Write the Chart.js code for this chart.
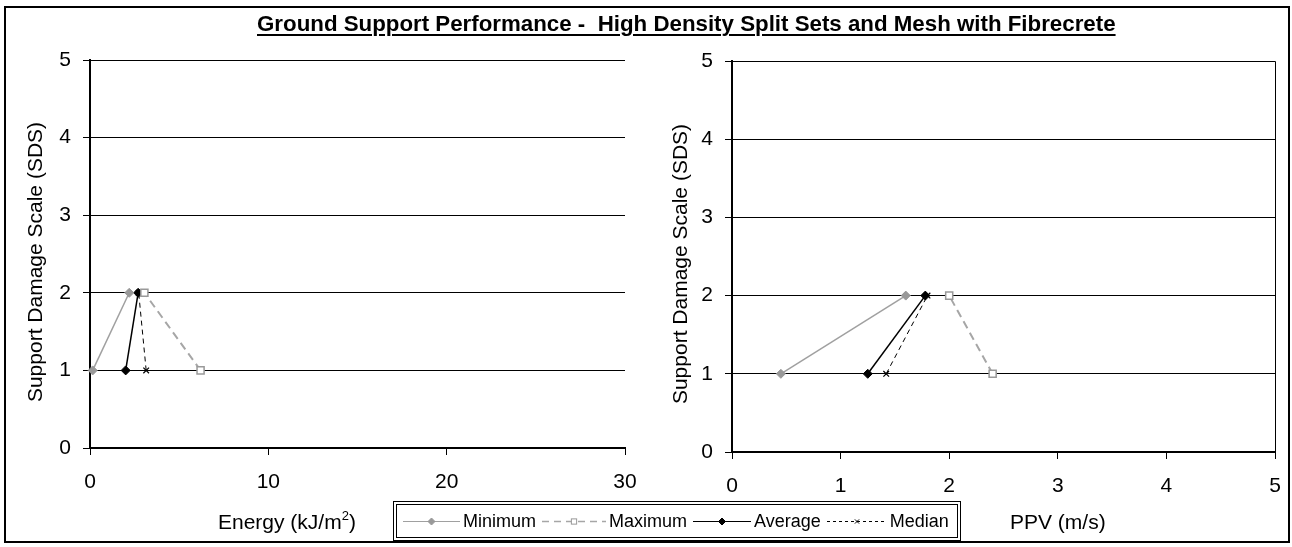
<!DOCTYPE html>
<html>
<head>
<meta charset="utf-8">
<script src="https://cdn.jsdelivr.net/npm/chart.js@4.4.1/dist/chart.umd.min.js"></script>
<style>
  html, body { margin: 0; padding: 0; background: #fff; }
  #wrap { position: relative; width: 1292px; height: 547px; overflow: hidden;
          font-family: 'Liberation Sans', Arial, sans-serif; color: #000; }
  canvas { position: absolute; top: 0; }
  #cLeft { left: 0; }
  #cRight { left: 646px; }
  #frame { position: absolute; left: 4px; top: 6px; width: 1286px; height: 537px;
           border: 2px solid #000; box-sizing: border-box; pointer-events: none; }
  #title { position: absolute; left: 257px; top: 11px; font-weight: bold; font-size: 22.3px;
           line-height: 26px; white-space: pre; text-decoration: underline;
           text-decoration-thickness: 2px; text-underline-offset: 3px; }
  .ytitle { position: absolute; width: 320px; height: 26px; line-height: 26px; font-size: 21px;
            text-align: center; transform: rotate(-90deg); transform-origin: 50% 50%; white-space: nowrap; }
  .xtitle { position: absolute; top: 509px; font-size: 21px; line-height: 26px; white-space: nowrap; }
  .xtitle sup { font-size: 13px; vertical-align: 9px; line-height: 0; }
  #legend { position: absolute; left: 393px; top: 501px; height: 40px; box-sizing: border-box;
            border: 4px double #000; display: flex; align-items: center; padding: 0 8px 0 6px;
            font-size: 18px; white-space: nowrap; background: #fff; }
  #legend .item { display: flex; align-items: center; margin-right: 6px; }
  #legend .item:last-child { margin-right: 0; }
  #legend svg { margin-right: 3px; }
</style>
</head>
<body>
<div id="wrap">
  <canvas id="cLeft" width="646" height="547"></canvas>
  <canvas id="cRight" width="646" height="547"></canvas>
  <div id="frame"></div>
  <div id="title">Ground Support Performance -  High Density Split Sets and Mesh with Fibrecrete</div>
  <div class="ytitle" style="left:-125px; top:249px;">Support Damage Scale (SDS)</div>
  <div class="ytitle" style="left:520px; top:251px;">Support Damage Scale (SDS)</div>
  <div class="xtitle" style="left:218px;">Energy (kJ/m<sup>2</sup>)</div>
  <div class="xtitle" style="left:1010px;">PPV (m/s)</div>
  <div id="legend"></div>
</div>
<script>
// ---- data ----
const sdsLevels = [1, 2];
const seriesNames = ['Minimum', 'Maximum', 'Average', 'Median'];
const energyMinimum = [0.15, 2.2];
const energyMaximum = [6.2, 3.05];
const energyAverage = [2.0, 2.7];
const energyMedian  = [3.15, 2.73];
const ppvMinimum = [0.45, 1.6];
const ppvMaximum = [2.4, 2.0];
const ppvAverage = [1.25, 1.78];
const ppvMedian  = [1.42, 1.8];
const energyTicks = [0, 10, 20, 30];
const ppvTicks = [0, 1, 2, 3, 4, 5];
const sdsTicks = [0, 1, 2, 3, 4, 5];

// ---- styles ----
const styles = [
  { borderColor: '#a0a0a0', borderWidth: 1.5, borderDash: [], pointStyle: 'rectRot', pointRadius: 4.5,
    pointBackgroundColor: '#999999', pointBorderColor: '#999999', pointBorderWidth: 1 },
  { borderColor: '#a6a6a6', borderWidth: 2, borderDash: [8, 5], pointStyle: 'rect', pointRadius: 5,
    pointBackgroundColor: '#ffffff', pointBorderColor: '#999999', pointBorderWidth: 1.5 },
  { borderColor: '#000000', borderWidth: 1.5, borderDash: [], pointStyle: 'rectRot', pointRadius: 4.5,
    pointBackgroundColor: '#000000', pointBorderColor: '#000000', pointBorderWidth: 1 },
  { borderColor: '#000000', borderWidth: 1, borderDash: [5, 4], pointStyle: 'crossRot', pointRadius: 4,
    pointBackgroundColor: '#000000', pointBorderColor: '#000000', pointBorderWidth: 1.2 }
];

Chart.defaults.font.family = "'Liberation Sans', Arial, sans-serif";
Chart.defaults.color = '#000';

const boxPlugin = {
  id: 'plotBox',
  beforeDatasetsDraw(chart, args, opts) {
    if (!opts || !opts.show) return;
    const a = chart.chartArea, ctx = chart.ctx;
    ctx.save();
    ctx.strokeStyle = '#000';
    ctx.lineWidth = 1;
    ctx.beginPath();
    ctx.moveTo(Math.round(a.left), Math.round(a.top) + 0.5);
    ctx.lineTo(Math.round(a.right) + 0.5, Math.round(a.top) + 0.5);
    ctx.lineTo(Math.round(a.right) + 0.5, Math.round(a.bottom));
    ctx.stroke();
    ctx.restore();
  }
};

function makeChart(canvas, seriesX, xTicks, xMax, g) {
  const datasets = seriesX.map((arr, i) => Object.assign({
    label: seriesNames[i],
    data: arr.map((x, j) => ({ x: x, y: sdsLevels[j] })),
    showLine: true, clip: false, fill: false, tension: 0,
    pointHoverRadius: styles[i].pointRadius
  }, styles[i]));
  return new Chart(canvas, {
    type: 'scatter',
    data: { datasets },
    options: {
      responsive: false, animation: false, devicePixelRatio: 1,
      events: [],
      layout: { padding: { left: 0, top: g.top, right: g.right, bottom: g.bottom } },
      plugins: { legend: { display: false }, tooltip: { enabled: false }, plotBox: { show: g.box } },
      scales: {
        x: {
          type: 'linear', min: 0, max: xMax,
          afterBuildTicks: s => { s.ticks = xTicks.map(v => ({ value: v })); },
          afterFit: s => { s.height = g.xh; s.paddingLeft = 0; s.paddingRight = 0; },
          grid: { drawOnChartArea: false, drawTicks: true, tickLength: 7, color: '#000', lineWidth: 1 },
          border: { display: true, color: '#000', width: 2 },
          ticks: { padding: 15, color: '#000', font: { size: 21 }, maxRotation: 0, autoSkip: false }
        },
        y: {
          type: 'linear', min: 0, max: 5,
          afterBuildTicks: s => { s.ticks = sdsTicks.map(v => ({ value: v })); },
          afterFit: s => { s.width = g.yw; s.paddingTop = 0; s.paddingBottom = 0; },
          grid: { drawOnChartArea: true, drawTicks: true, tickLength: 7, color: '#000', lineWidth: 1 },
          border: { display: true, color: '#000', width: 2 },
          ticks: { padding: 12, color: '#000', font: { size: 21 }, autoSkip: false }
        }
      }
    },
    plugins: [boxPlugin]
  });
}

makeChart(document.getElementById('cLeft'),
  [energyMinimum, energyMaximum, energyAverage, energyMedian], energyTicks, 30,
  { top: 60, right: 21, bottom: 39, xh: 60, yw: 90, box: false });
makeChart(document.getElementById('cRight'),
  [ppvMinimum, ppvMaximum, ppvAverage, ppvMedian], ppvTicks, 5,
  { top: 61, right: 17, bottom: 35, xh: 60, yw: 86, box: true });

// ---- legend (HTML, built from the series styles) ----
const legend = document.getElementById('legend');
function markerSvg(s, cx, cy, r) {
  if (s.pointStyle === 'rectRot') {
    return `<polygon points="${cx},${cy - r} ${cx + r},${cy} ${cx},${cy + r} ${cx - r},${cy}" fill="${s.pointBackgroundColor}" stroke="${s.pointBorderColor}" stroke-width="1"/>`;
  } else if (s.pointStyle === 'rect') {
    const h = r * 0.75;
    return `<rect x="${cx - h}" y="${cy - h}" width="${2 * h}" height="${2 * h}" fill="#fff" stroke="${s.pointBorderColor}" stroke-width="1"/>`;
  } else {
    const h = r * 0.6;
    return `<path d="M${cx - h},${cy - h}L${cx + h},${cy + h}M${cx + h},${cy - h}L${cx - h},${cy + h}" stroke="#000" stroke-width="1"/>`;
  }
}
const sampleW = [57, 64, 58, 60];
seriesNames.forEach((name, i) => {
  const s = styles[i];
  const w = sampleW[i];
  const dash = s.borderDash.length ? `stroke-dasharray="${i === 3 ? '3,3' : '7,5'}"` : '';
  const item = document.createElement('div');
  item.className = 'item';
  item.innerHTML = `<svg width="${w}" height="14" viewBox="0 0 ${w} 14">` +
    `<line x1="0" y1="7.5" x2="${w}" y2="7.5" stroke="${s.borderColor}" stroke-width="${Math.max(1, s.borderWidth - 0.3)}" ${dash}/>` +
    markerSvg(s, w / 2, 7.5, 3.5) + `</svg><span>${name}</span>`;
  legend.appendChild(item);
});
</script>
</body>
</html>
